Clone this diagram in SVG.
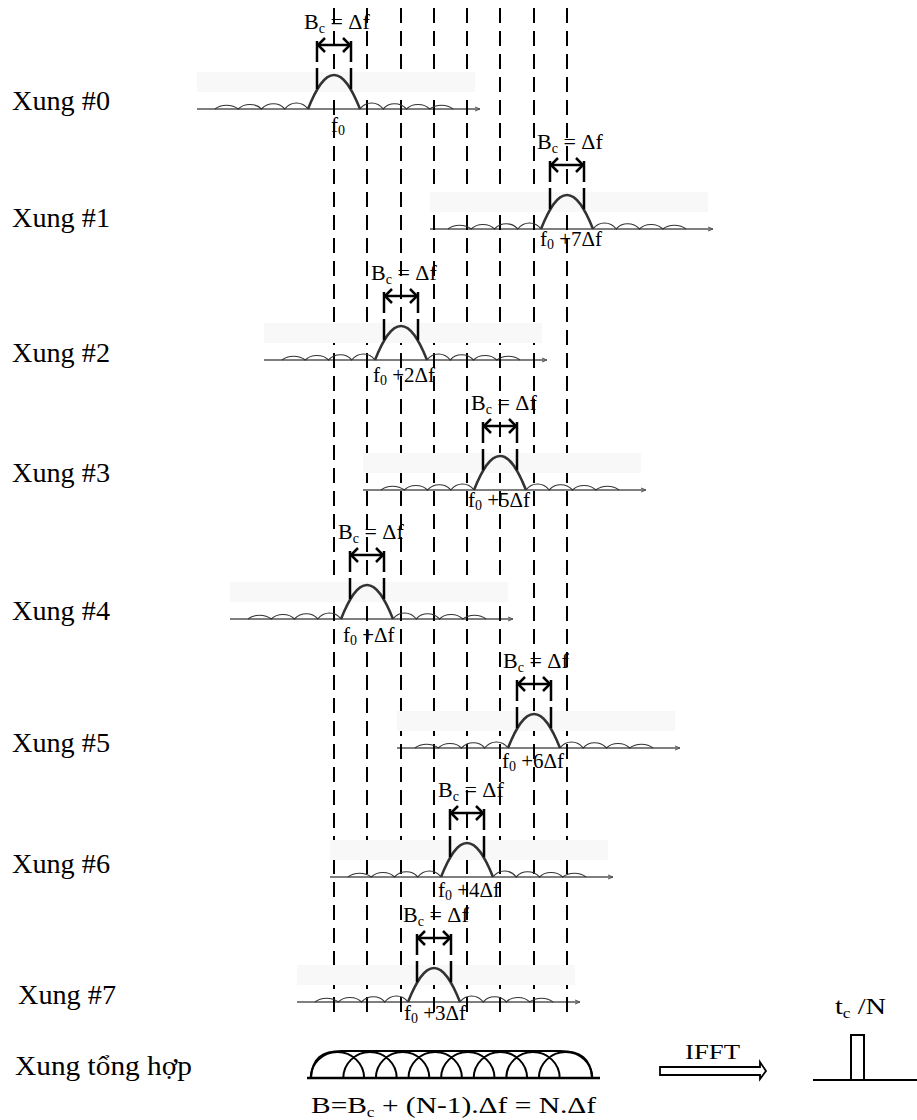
<svg xmlns="http://www.w3.org/2000/svg" xmlns:xlink="http://www.w3.org/1999/xlink" width="917" height="1120" viewBox="0 0 917 1120">
<style>
text{font-family:"Liberation Serif","Times New Roman",serif;fill:#000}
.lbl{font-size:27px}
.bc{font-size:22px}
.fl{font-size:21px}
.sub{font-size:14px}
.grid line{stroke:#000;stroke-width:2;stroke-dasharray:15 8}
.thick{stroke:#000;stroke-width:2.5;fill:none}
</style>
<defs>
<g id="pulse">
<rect x="-137" y="-37" width="278" height="20" fill="#f8f8f8"/>
<line x1="-137" y1="0" x2="146" y2="0" stroke="#000" stroke-width="1.2"/>
<polyline points="141,-2 146,0 141,2" fill="none" stroke="#555" stroke-width="1"/>
<path d="M-119,0 C-113,-5 -102,-5 -95.75,0 C-90,-6 -78,-6 -72.5,0 C-66,-7 -55,-7 -49.25,0 C-43,-8 -32,-8 -26,0 M26,0 C32,-8 43,-8 49.25,0 C55,-7 66,-7 72.5,0 C78,-6 90,-6 95.75,0 C102,-5 113,-5 119,0" fill="none" stroke="#333" stroke-width="1.2"/>
<path d="M-26,0 C-18,-20 -10,-34 0,-34 C10,-34 18,-20 26,0" fill="none" stroke="#333" stroke-width="2.5"/>
<line x1="-17" y1="-68" x2="-17" y2="-14" class="thick" stroke-dasharray="21 6"/>
<line x1="17" y1="-68" x2="17" y2="-14" class="thick" stroke-dasharray="21 6"/>
<line x1="-16" y1="-64" x2="16" y2="-64" class="thick"/>
<polyline points="-9,-71 -16,-64 -9,-57" class="thick"/>
<polyline points="9,-71 16,-64 9,-57" class="thick"/>
</g>
</defs>

<g id="guides" class="grid">
<line x1="334" y1="8" x2="334" y2="1020"/>
<line x1="367" y1="8" x2="367" y2="1020"/>
<line x1="401" y1="8" x2="401" y2="1020"/>
<line x1="434" y1="8" x2="434" y2="1020"/>
<line x1="467" y1="8" x2="467" y2="1020"/>
<line x1="500" y1="8" x2="500" y2="1020"/>
<line x1="534" y1="8" x2="534" y2="1020"/>
<line x1="567" y1="8" x2="567" y2="1020"/>
</g>

<g id="xung0">
<text class="lbl" x="12" y="110" textLength="98" lengthAdjust="spacingAndGlyphs">Xung #0</text>
<use xlink:href="#pulse" x="334" y="109"/>
<text class="bc" x="304" y="29">B<tspan class="sub" dy="4">c</tspan><tspan dy="-4"> = Δf</tspan></text>
<text class="fl" x="331" y="132">f<tspan class="sub" dy="3">0</tspan></text>
</g>

<g id="xung1">
<text class="lbl" x="12" y="227" textLength="98" lengthAdjust="spacingAndGlyphs">Xung #1</text>
<use xlink:href="#pulse" x="567" y="229"/>
<text class="bc" x="537" y="149">B<tspan class="sub" dy="4">c</tspan><tspan dy="-4"> = Δf</tspan></text>
<text class="fl" x="540" y="246">f<tspan class="sub" dy="3">0</tspan><tspan dy="-3"> +7Δf</tspan></text>
</g>

<g id="xung2">
<text class="lbl" x="12" y="362" textLength="98" lengthAdjust="spacingAndGlyphs">Xung #2</text>
<use xlink:href="#pulse" x="401" y="360"/>
<text class="bc" x="371" y="280">B<tspan class="sub" dy="4">c</tspan><tspan dy="-4"> = Δf</tspan></text>
<text class="fl" x="373" y="382">f<tspan class="sub" dy="3">0</tspan><tspan dy="-3"> +2Δf</tspan></text>
</g>

<g id="xung3">
<text class="lbl" x="12" y="482" textLength="98" lengthAdjust="spacingAndGlyphs">Xung #3</text>
<use xlink:href="#pulse" x="500" y="490"/>
<text class="bc" x="471" y="410">B<tspan class="sub" dy="4">c</tspan><tspan dy="-4"> = Δf</tspan></text>
<text class="fl" x="468" y="507">f<tspan class="sub" dy="3">0</tspan><tspan dy="-3"> +5Δf</tspan></text>
</g>

<g id="xung4">
<text class="lbl" x="12" y="620" textLength="98" lengthAdjust="spacingAndGlyphs">Xung #4</text>
<use xlink:href="#pulse" x="367" y="619"/>
<text class="bc" x="338" y="539">B<tspan class="sub" dy="4">c</tspan><tspan dy="-4"> = Δf</tspan></text>
<text class="fl" x="343" y="642">f<tspan class="sub" dy="3">0</tspan><tspan dy="-3"> +Δf</tspan></text>
</g>

<g id="xung5">
<text class="lbl" x="12" y="752" textLength="98" lengthAdjust="spacingAndGlyphs">Xung #5</text>
<use xlink:href="#pulse" x="534" y="748"/>
<text class="bc" x="503" y="668">B<tspan class="sub" dy="4">c</tspan><tspan dy="-4"> = Δf</tspan></text>
<text class="fl" x="502" y="768">f<tspan class="sub" dy="3">0</tspan><tspan dy="-3"> +6Δf</tspan></text>
</g>

<g id="xung6">
<text class="lbl" x="12" y="873" textLength="98" lengthAdjust="spacingAndGlyphs">Xung #6</text>
<use xlink:href="#pulse" x="467" y="877"/>
<text class="bc" x="438" y="797">B<tspan class="sub" dy="4">c</tspan><tspan dy="-4"> = Δf</tspan></text>
<text class="fl" x="438" y="897">f<tspan class="sub" dy="3">0</tspan><tspan dy="-3"> +4Δf</tspan></text>
</g>

<g id="xung7">
<text class="lbl" x="18" y="1004" textLength="98" lengthAdjust="spacingAndGlyphs">Xung #7</text>
<use xlink:href="#pulse" x="434" y="1002"/>
<text class="bc" x="403" y="922">B<tspan class="sub" dy="4">c</tspan><tspan dy="-4"> = Δf</tspan></text>
<text class="fl" x="404" y="1020">f<tspan class="sub" dy="3">0</tspan><tspan dy="-3"> +3Δf</tspan></text>
</g>

<g id="tonghop">
<text class="lbl" x="15" y="1075" textLength="177" lengthAdjust="spacingAndGlyphs">Xung tổng hợp</text>
<line x1="307" y1="1078" x2="600" y2="1078" stroke="#000" stroke-width="2.5"/>
<path d="M311,1078 C312,1058 322,1051 342,1051 L560,1051 C580,1051 591,1058 592,1078" fill="none" stroke="#000" stroke-width="2"/>
<path d="M310.7,1078 a26.7,26 0 0 1 53.4,0 M343.3,1078 a26.7,26 0 0 1 53.4,0 M375.9,1078 a26.7,26 0 0 1 53.4,0 M408.5,1078 a26.7,26 0 0 1 53.4,0 M441.1,1078 a26.7,26 0 0 1 53.4,0 M473.7,1078 a26.7,26 0 0 1 53.4,0 M506.3,1078 a26.7,26 0 0 1 53.4,0 M538.9,1078 a26.7,26 0 0 1 53.4,0" fill="none" stroke="#000" stroke-width="2"/>
<text x="311" y="1113" font-size="24" textLength="285" lengthAdjust="spacingAndGlyphs">B=B<tspan class="sub" font-size="16" dy="4">c</tspan><tspan dy="-4"> + (N-1).Δf = N.Δf</tspan></text>
</g>

<g id="connectors">
<path d="M660,1067 L760,1067 L760,1062 L766,1071 L760,1079 L760,1075 L660,1075 Z" fill="#fff" stroke="#000" stroke-width="1.8"/>
<text x="685" y="1059" font-size="22" textLength="55" lengthAdjust="spacingAndGlyphs">IFFT</text>
</g>

<g id="ifftpulse">
<text x="835" y="1014" font-size="23" textLength="51" lengthAdjust="spacingAndGlyphs">t<tspan class="sub" font-size="15" dy="4">c</tspan><tspan dy="-4"> /N</tspan></text>
<line x1="813" y1="1080" x2="917" y2="1080" stroke="#000" stroke-width="2"/>
<rect x="851" y="1035" width="13" height="45" fill="none" stroke="#000" stroke-width="2"/>
</g>
</svg>
